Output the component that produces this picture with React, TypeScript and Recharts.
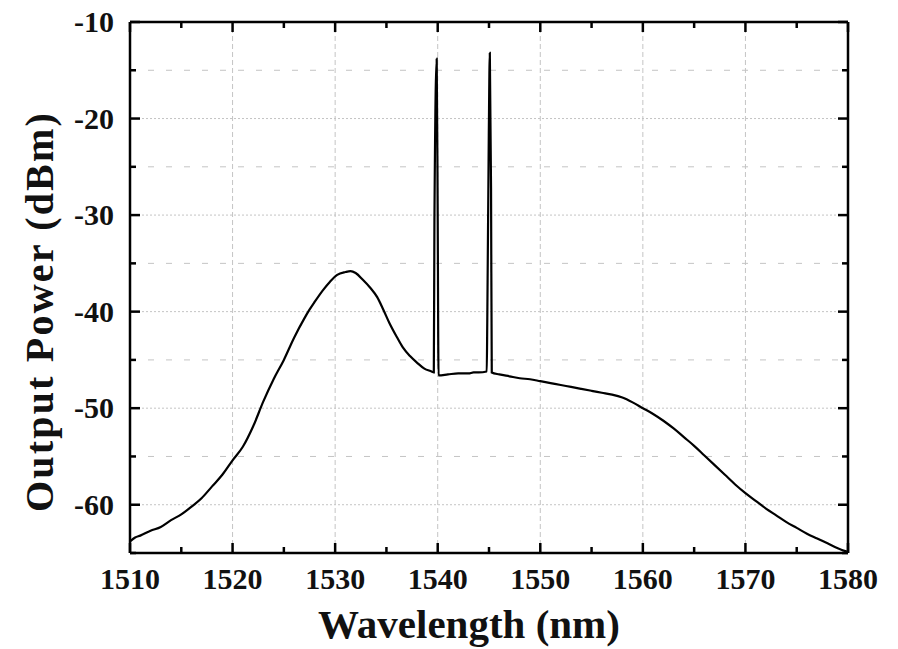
import { LineChart, Line, XAxis, YAxis, ReferenceLine } from 'recharts';

// spectrum
const wavelength = [
  1510, 1510.5, 1511, 1512, 1513, 1514, 1515, 1516, 1517, 1518, 1519, 1520,
  1521, 1522, 1523, 1524, 1525, 1526, 1527, 1527.5, 1528, 1528.8, 1529.5, 1530.2,
  1531, 1531.5, 1532, 1532.7, 1533.4, 1534.1, 1534.7, 1535.3, 1536, 1536.6, 1537.3,
  1538, 1538.7, 1539.4, 1539.62,
  1539.68, 1539.9, 1540.0, 1540.08,
  1541, 1542, 1543, 1543.5, 1544, 1544.78,
  1544.83, 1544.98, 1545.08, 1545.2, 1545.27,
  1546, 1547, 1548, 1549, 1550, 1551, 1552, 1553, 1554, 1555, 1556, 1557,
  1558, 1559, 1560, 1561, 1562, 1563, 1564, 1565, 1566, 1567, 1568, 1569,
  1570, 1571, 1572, 1573, 1574, 1575, 1576, 1577, 1578, 1579, 1580,
];
const power = [
  -63.8, -63.4, -63.2, -62.7, -62.3, -61.6, -61.0, -60.2, -59.3, -58.1, -56.9, -55.4,
  -54.0, -51.9, -49.3, -47.0, -45.0, -42.7, -40.7, -39.8, -39.0, -37.8, -36.9, -36.2,
  -35.9, -35.8, -36.0, -36.7, -37.5, -38.5, -39.8, -41.2, -42.6, -43.7, -44.6,
  -45.3, -45.9, -46.2, -46.3,
  -30.5, -13.8, -30.5, -46.6,
  -46.5, -46.4, -46.4, -46.3, -46.3, -46.2,
  -41.2, -21.7, -13.2, -27.2, -46.3,
  -46.5, -46.7, -46.9, -47.0, -47.2, -47.4, -47.6, -47.8, -48.0, -48.2, -48.4, -48.6,
  -48.9, -49.4, -50.0, -50.6, -51.3, -52.1, -53.0, -53.9, -54.9, -55.9, -56.9, -57.9,
  -58.8, -59.6, -60.4, -61.1, -61.8, -62.4, -63.0, -63.5, -64.0, -64.5, -64.9,
];

const xTicks = [1510, 1515, 1520, 1525, 1530, 1535, 1540, 1545, 1550, 1555, 1560, 1565, 1570, 1575, 1580];
const yTicks = [-65, -60, -55, -50, -45, -40, -35, -30, -25, -20, -15, -10];
const xGrid = [1520, 1530, 1540, 1550, 1560, 1570];
const yGridMajor = [-60, -50, -40, -30, -20];
const yGridMinor = [-65, -55, -45, -35, -25, -15];

const data = wavelength.map((wl, i) => ({ wl, p: power[i] }));

const SERIF = '"Liberation Serif", "Times New Roman", serif';
const TICK_FONT = { fontFamily: SERIF, fontWeight: 700, fontSize: 30, fill: '#111' };
const MAJOR = 10;
const MINOR = 6;
const AXIS_LINE = { stroke: '#000', strokeWidth: 2.5 };
const GRID = '#c4c4c4';

const isMajor = (v: number) => Math.abs(v % 10) === 0;

function BottomTick({ x, y, payload }: any) {
  const major = isMajor(payload.value);
  return (
    <g>
      <line x1={x} x2={x} y1={y} y2={y - (major ? MAJOR : MINOR)} stroke="#000" strokeWidth={2.5} />
      {major && <text x={x} y={y + 36} textAnchor="middle" style={TICK_FONT}>{payload.value}</text>}
    </g>
  );
}

function TopTick({ x, y, payload }: any) {
  const major = isMajor(payload.value);
  return <line x1={x} x2={x} y1={y} y2={y + (major ? MAJOR : MINOR)} stroke="#000" strokeWidth={2.5} />;
}

function LeftTick({ x, y, payload }: any) {
  const major = isMajor(payload.value);
  return (
    <g>
      <line x1={x} x2={x + (major ? MAJOR : MINOR)} y1={y} y2={y} stroke="#000" strokeWidth={2.5} />
      {major && <text x={x - 16} y={y + 10} textAnchor="end" style={TICK_FONT}>{payload.value}</text>}
    </g>
  );
}

function RightTick({ x, y, payload }: any) {
  const major = isMajor(payload.value);
  return <line x1={x} x2={x - (major ? MAJOR : MINOR)} y1={y} y2={y} stroke="#000" strokeWidth={2.5} />;
}

function XTitle({ viewBox }: any) {
  return (
    <text x={viewBox.x + viewBox.width / 2 - 20} y={viewBox.y + 85} textAnchor="middle"
      style={{ fontFamily: SERIF, fontWeight: 700, fontSize: 41, fill: '#111' }}>
      Wavelength (nm)
    </text>
  );
}

function YTitle({ viewBox }: any) {
  const cx = 39;
  const cy = viewBox.y + viewBox.height / 2 + 24;
  return (
    <text x={cx} y={cy} textAnchor="middle" dominantBaseline="central"
      transform={`rotate(-90, ${cx}, ${cy})`}
      style={{ fontFamily: SERIF, fontWeight: 700, fontSize: 40, letterSpacing: 2.2, fill: '#111' }}>
      Output Power (dBm)
    </text>
  );
}

export default function App() {
  return (
    <div style={{ position: 'absolute', left: 0, top: 0, background: '#fff' }}>
      <LineChart width={898} height={649} data={data} margin={{ top: 0, right: 0, left: 0, bottom: 0 }}>
        <XAxis dataKey="wl" type="number" domain={[1510, 1580]} ticks={xTicks} interval={0}
          allowDataOverflow height={96} axisLine={AXIS_LINE} tickLine={false} tickSize={0} tickMargin={0}
          tick={<BottomTick />} label={{ content: <XTitle /> }} />
        <XAxis xAxisId="top" orientation="top" dataKey="wl" type="number" domain={[1510, 1580]} ticks={xTicks}
          interval={0} allowDataOverflow height={22} axisLine={AXIS_LINE} tickLine={false} tickSize={0}
          tickMargin={0} tick={<TopTick />} />
        <YAxis type="number" domain={[-65, -10]} ticks={yTicks} interval={0} allowDataOverflow width={130}
          axisLine={AXIS_LINE} tickLine={false} tickSize={0} tickMargin={0} tick={<LeftTick />}
          label={{ content: <YTitle /> }} />
        <YAxis yAxisId="right" orientation="right" type="number" domain={[-65, -10]} ticks={yTicks}
          interval={0} allowDataOverflow width={50} axisLine={AXIS_LINE} tickLine={false} tickSize={0}
          tickMargin={0} tick={<RightTick />} />

        {/* grid: fine dots at decades, long dashes at the halves */}
        {xGrid.map((v) => (
          <ReferenceLine key={`gx${v}`} x={v} stroke={GRID} strokeDasharray="5 3" strokeWidth={1} />
        ))}
        {yGridMajor.map((v) => (
          <ReferenceLine key={`gy${v}`} y={v} stroke={GRID} strokeDasharray="2 2" strokeWidth={1} />
        ))}
        {yGridMinor.map((v) => (
          <ReferenceLine key={`gm${v}`} y={v} stroke={GRID} strokeDasharray="6 12" strokeWidth={1} />
        ))}

        <Line type="monotoneX" dataKey="p" stroke="#000" strokeWidth={2.2} dot={false}
          activeDot={false} isAnimationActive={false} />
      </LineChart>
    </div>
  );
}
